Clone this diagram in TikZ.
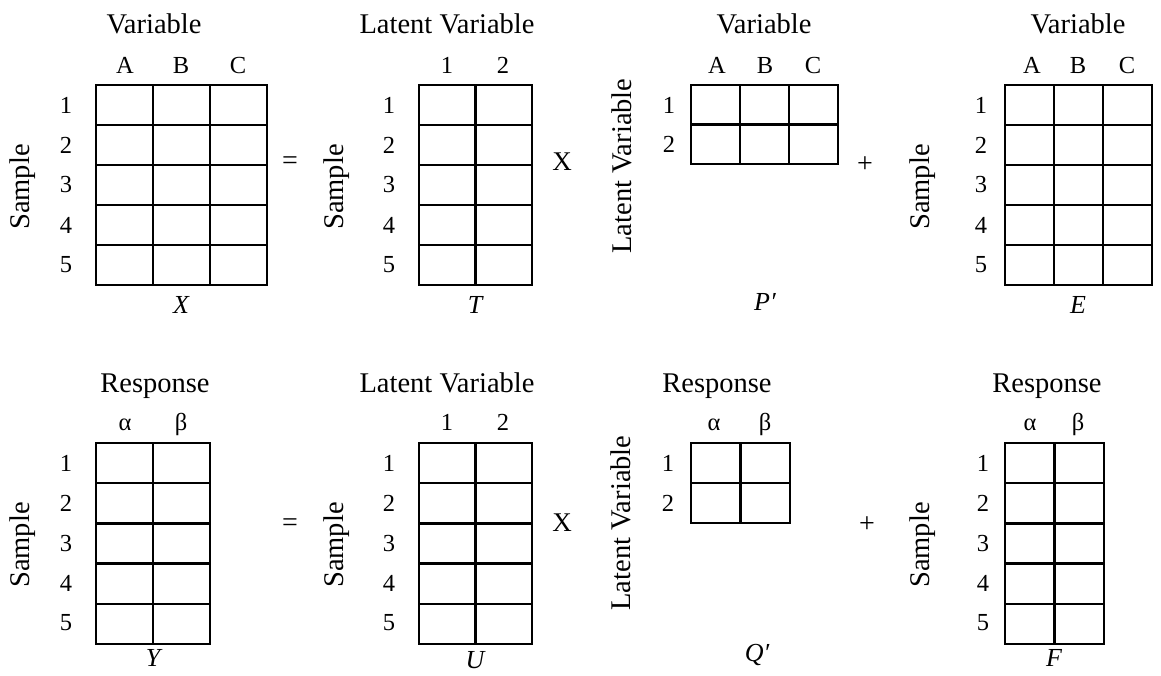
\documentclass[tikz,border=0pt]{standalone}
\usepackage{fontspec}
\setmainfont{Liberation Serif}
\newcommand\mygrid[6]{% x0 y0 ncol nrow cw rh
  \draw[gridline] (#1,#2) rectangle ({#1+#3*#5},{#2+#4*#6});
  \foreach \i in {1,...,#3}{\draw[gridline] ({#1+\i*#5},#2) -- ({#1+\i*#5},{#2+#4*#6});}
  \foreach \j in {1,...,#4}{\draw[gridline] (#1,{#2+\j*#6}) -- ({#1+#3*#5},{#2+\j*#6});}
}
\begin{document}
\begin{tikzpicture}[x=1pt,y=-1pt,
  gridline/.style={line width=2.4pt, line cap=rect},
  ttl/.style={font=\fontsize{28.5}{34}\selectfont, anchor=base, inner sep=0pt},
  side/.style={font=\fontsize{28.5}{34}\selectfont, rotate=90, inner sep=0pt},
  col/.style={font=\fontsize{24.5}{28}\selectfont, anchor=base, inner sep=0pt},
  row/.style={font=\fontsize{24.5}{28}\selectfont, inner sep=0pt},
  op/.style={font=\fontsize{28}{30}\selectfont, inner sep=0pt},
  opx/.style={font=\fontsize{27}{30}\selectfont, inner sep=0pt},
  mlab/.style={font=\fontsize{26}{30}\selectfont\itshape, inner sep=0pt}]
\useasboundingbox (0,0) rectangle (1161,675);

% ---------- top row ----------
\mygrid{96}{85}{3}{5}{57}{40}
\mygrid{419}{85}{2}{5}{56.5}{40}
\mygrid{691}{85}{3}{2}{49}{39.5}
\mygrid{1005}{85}{3}{5}{49}{40}

\node[ttl] (tX) at (154,33) {Variable};
\node[ttl] (tT) at (447,33) {Latent Variable};
\node[ttl] (tP) at (764,33) {Variable};
\node[ttl] (tE) at (1078,33) {Variable};

\node[col] (cXa) at (125,73) {A};
\node[col] (cXb) at (181,73) {B};
\node[col] (cXc) at (238,73) {C};
\node[col] (cT1) at (447,73) {1};
\node[col] (cT2) at (503,73) {2};
\node[col] (cPa) at (717,73) {A};
\node[col] (cPb) at (765,73) {B};
\node[col] (cPc) at (813,73) {C};
\node[col] (cEa) at (1032,73) {A};
\node[col] (cEb) at (1078,73) {B};
\node[col] (cEc) at (1127,73) {C};

\foreach \r [count=\k] in {105,145,185,225,265}{
  \node[row] (rX\k) at (66,\r) {\k};
  \node[row] (rT\k) at (389,\r) {\k};
  \node[row] (rE\k) at (981,\r) {\k};
}
\node[row] (rP1) at (669,105) {1};
\node[row] (rP2) at (669,144) {2};

\node[side] (sX) at (23,187) {Sample};
\node[side] (sT) at (337,187) {Sample};
\node[side] (sP) at (622,166) {Latent Variable};
\node[side] (sE) at (923,187) {Sample};

\node[op] (eq1) at (290,163) {=};
\node[opx] (x1) at (562,162) {X};
\node[op] (pl1) at (865,165) {+};

\node[mlab] (mX) at (181,305) {X};
\node[mlab] (mT) at (475,305) {T};
\node[mlab] (mP) at (765,302) {P′};
\node[mlab] (mE) at (1078,305) {E};

% ---------- bottom row ----------
\mygrid{96}{443}{2}{5}{57}{40.2}
\mygrid{419}{443}{2}{5}{56.5}{40.2}
\mygrid{691}{443}{2}{2}{49.5}{40}
\mygrid{1005}{443}{2}{5}{49.5}{40.2}

\node[ttl] (tY) at (155,392) {Response};
\node[ttl] (tU) at (447,392) {Latent Variable};
\node[ttl] (tQ) at (717,392) {Response};
\node[ttl] (tF) at (1047,392) {Response};

\node[col] (cYa) at (125,430) {α};
\node[col] (cYb) at (181,430) {β};
\node[col] (cU1) at (447,430) {1};
\node[col] (cU2) at (503,430) {2};
\node[col] (cQa) at (714,430) {α};
\node[col] (cQb) at (765,430) {β};
\node[col] (cFa) at (1030,430) {α};
\node[col] (cFb) at (1078,430) {β};

\foreach \r [count=\k] in {463,503,543,583,623}{
  \node[row] (rY\k) at (66,\r) {\k};
  \node[row] (rU\k) at (389,\r) {\k};
  \node[row] (rF\k) at (983,\r) {\k};
}
\node[row] (rQ1) at (668,463) {1};
\node[row] (rQ2) at (668,503) {2};

\node[side] (sY) at (23,545) {Sample};
\node[side] (sU) at (337,545) {Sample};
\node[side] (sQ) at (621,523) {Latent Variable};
\node[side] (sF) at (923,545) {Sample};

\node[op] (eq2) at (290,525) {=};
\node[opx] (x2) at (562,523) {X};
\node[op] (pl2) at (867,525) {+};

\node[mlab] (mY) at (153,658) {Y};
\node[mlab] (mU) at (475,660) {U};
\node[mlab] (mQ) at (757,655) {Q′};
\node[mlab] (mF) at (1054,658) {F};
\end{tikzpicture}
\end{document}
